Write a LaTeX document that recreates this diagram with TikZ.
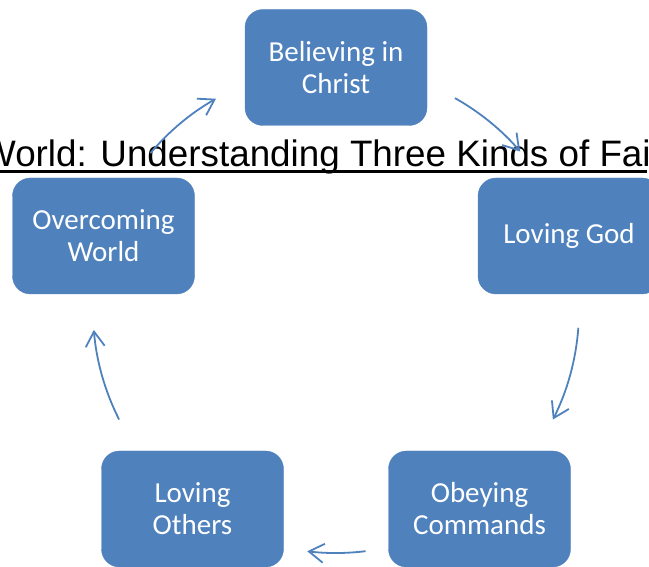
\documentclass[tikz,border=0pt]{standalone}
\usepackage{fontspec}
\setmainfont{Carlito}
\newfontfamily\titlefont{Liberation Sans}
\usetikzlibrary{arrows.meta,calc}
\definecolor{accent}{HTML}{4F81BD}
\begin{document}
\begin{tikzpicture}[x=1pt,y=1pt,
  box/.style={fill=accent, draw=accent, rounded corners=18pt, minimum width=182pt, minimum height=116pt,
    text=white, font=\fontsize{29}{32}\selectfont, align=center, inner sep=0pt},
  cyc/.style={draw=accent, line width=1.8pt, -{Straight Barb[length=15pt,width=19pt]}}]
\useasboundingbox (0,0) rectangle (649,567);
\clip (0,0) rectangle (649,567);
% title (clipped)
\node[anchor=base west, inner sep=0pt, font=\titlefont\fontsize{36.8}{40}\selectfont] (title) at (-19,400.5) {World: Understanding Three Kinds of Fai};
\coordinate (ulL) at (0,395.3);
\coordinate (ulR) at (647,395.3);
\draw[line width=2.5pt] (ulL) -- (ulR);
% boxes
\node[box] (bel) at (336,499.5) {Believing in\\Christ};
\node[box] (god) at (569,331) {Loving God};
\node[box] (obey) at (479.5,58) {Obeying\\Commands};
\node[box] (oth) at (192.5,58) {Loving\\Others};
\node[box] (over) at (103.5,331) {Overcoming\\World};
% cycle arrows
\coordinate (c) at (336,257);
\coordinate (a1) at ($(c)+(139.8:243)$);
\coordinate (a2) at ($(c)+(60.7:243)$);
\coordinate (a3) at ($(c)+(-4.2:243)$);
\coordinate (a4) at ($(c)+(-83:243)$);
\coordinate (a5) at ($(c)+(-153.2:243)$);
\draw[cyc] (a1) arc[start angle=139.8, end angle=119.6, radius=243];
\draw[cyc] (a2) arc[start angle=60.7, end angle=40.7, radius=243];
\draw[cyc] (a3) arc[start angle=-4.2, end angle=-26.8, radius=243];
\draw[cyc] (a4) arc[start angle=-83, end angle=-96.8, radius=243];
\draw[cyc] (a5) arc[start angle=-153.2, end angle=-175.3, radius=243];
\end{tikzpicture}
\end{document}
